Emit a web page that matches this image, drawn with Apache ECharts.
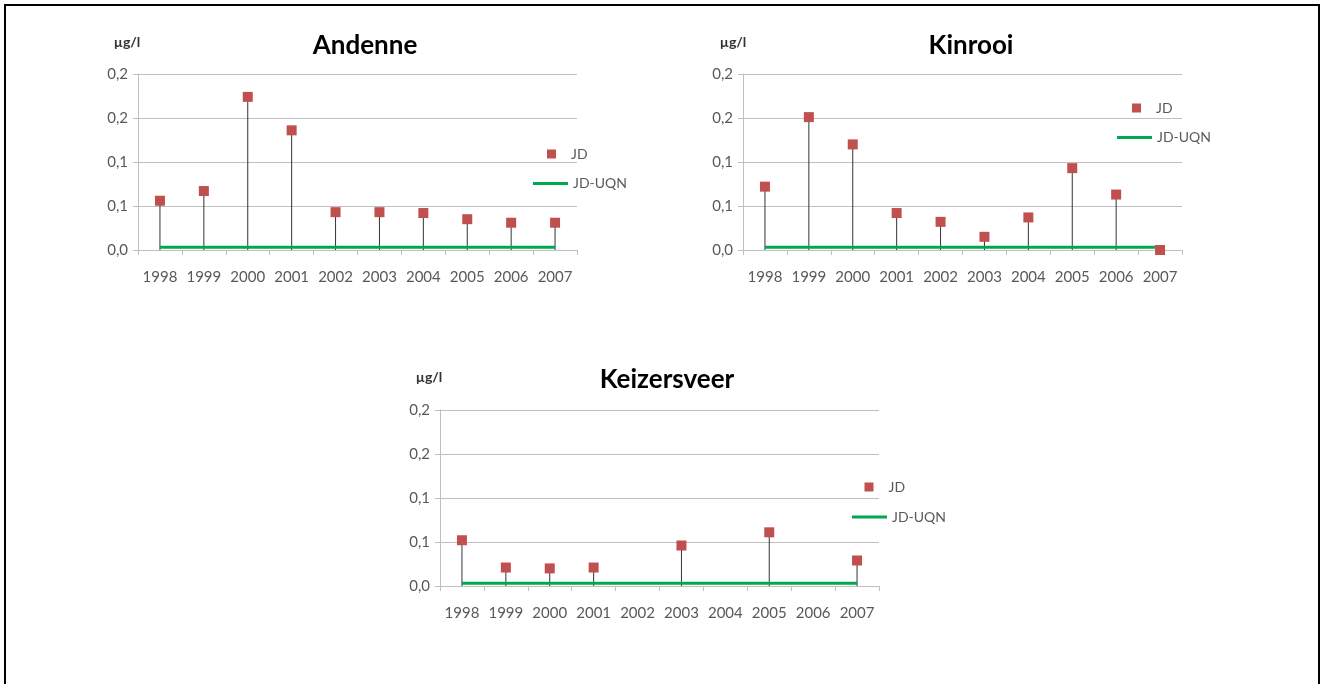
<!DOCTYPE html>
<html>
<head>
<meta charset="utf-8">
<script src="https://cdn.jsdelivr.net/npm/echarts@6/dist/echarts.min.js"></script>
<style>
  html, body { margin: 0; padding: 0; background: #ffffff; }
  #chart { width: 1321px; height: 684px; }
</style>
</head>
<body>
<div id="chart"></div>
<script>
// Annual averages (JD) per station, µg/l
const years = ['1998', '1999', '2000', '2001', '2002', '2003', '2004', '2005', '2006', '2007'];
const yTickLabels = ['0,0', '0,1', '0,1', '0,2', '0,2'];
const andenneJD = [0.056, 0.067, 0.174, 0.136, 0.043, 0.043, 0.042, 0.035, 0.031, 0.031];
const kinrooiJD = [0.072, 0.151, 0.120, 0.042, 0.032, 0.015, 0.037, 0.093, 0.063, 0.000];
const keizersveerJD = [0.052, 0.021, 0.020, 0.021, null, 0.046, null, 0.061, null, 0.029];
// Environmental quality standard (annual average)
const jdUqn = [0.003, 0.003, 0.003, 0.003, 0.003, 0.003, 0.003, 0.003, 0.003, 0.003];

const stations = [
  { name: 'Andenne', data: andenneJD, grid: { left: 138, top: 74 }, titleX: 360, titleY: 43, unitX: 127, unitY: 42,
    legendJD: [547, 147], legendUqn: [533, 176.5] },
  { name: 'Kinrooi', data: kinrooiJD, grid: { left: 743, top: 74 }, titleX: 966, titleY: 43, unitX: 733, unitY: 42,
    legendJD: [1132, 101], legendUqn: [1117, 130.5] },
  { name: 'Keizersveer', data: keizersveerJD, grid: { left: 440, top: 410 }, titleX: 662, titleY: 377, unitX: 429, unitY: 377,
    legendJD: [864.5, 480], legendUqn: [852, 510] }
];

const FONT = 'Lato';
const RED = '#c0504d';
const GREEN = '#00a650';
const GRAYTXT = '#595959';
const GRID = '#bfbfbf';

const option = {
  backgroundColor: '#ffffff',
  animation: false,
  title: [],
  legend: [],
  grid: [],
  xAxis: [],
  yAxis: [],
  series: [],
  graphic: [
    {
      type: 'rect',
      shape: { x: 5, y: 5, width: 1314, height: 700 },
      style: { fill: 'none', stroke: '#000000', lineWidth: 2 },
      silent: true
    }
  ]
};

stations.forEach((s, i) => {
  option.grid.push({ left: s.grid.left, top: s.grid.top, width: 439, height: 176 });

  option.title.push({
    text: s.name,
    left: s.titleX,
    top: s.titleY - 15,
    textAlign: 'center',
    textStyle: { fontFamily: FONT, fontWeight: 'bold', fontSize: 26, color: '#000000' }
  });

  option.graphic.push({
    type: 'text',
    x: s.unitX,
    y: s.unitY,
    style: {
      text: 'µg/l', fontFamily: FONT, fontWeight: 'bold', fontSize: 14,
      fill: '#333333', align: 'center', verticalAlign: 'middle'
    },
    silent: true
  });

  option.legend.push({
    left: s.legendJD[0], top: s.legendJD[1], padding: 0,
    selectedMode: false,
    data: [{ name: 'JD', icon: 'rect' }],
    itemWidth: 9, itemHeight: 9,
    textStyle: { fontFamily: FONT, fontSize: 14, color: GRAYTXT, lineHeight: 14, padding: [0, 0, 0, 10] }
  });
  option.legend.push({
    left: s.legendUqn[0], top: s.legendUqn[1], padding: 0,
    selectedMode: false,
    data: [{ name: 'JD-UQN', icon: 'rect' }],
    itemWidth: 35, itemHeight: 3,
    textStyle: { fontFamily: FONT, fontSize: 14, color: GRAYTXT, lineHeight: 14 }
  });

  option.xAxis.push({
    type: 'category',
    gridIndex: i,
    data: years,
    boundaryGap: true,
    axisLine: { show: true, lineStyle: { color: GRID, width: 1 } },
    axisTick: { show: true, length: 5, interval: 0, lineStyle: { color: GRID } },
    axisLabel: { interval: 0, margin: 20, fontFamily: FONT, fontSize: 15, color: GRAYTXT },
    splitLine: { show: false }
  });

  option.yAxis.push({
    type: 'value',
    gridIndex: i,
    min: 0,
    max: 0.2,
    interval: 0.05,
    axisLine: { show: true, lineStyle: { color: GRID, width: 1 } },
    axisTick: { show: true, length: 5, lineStyle: { color: GRID } },
    axisLabel: {
      margin: 10, fontFamily: FONT, fontSize: 15, color: GRAYTXT,
      formatter: (v) => yTickLabels[Math.round(v / 0.05)]
    },
    splitLine: { show: true, lineStyle: { color: GRID, width: 1 } }
  });

  // drop lines from each annual value down to the axis
  option.series.push({
    name: 'JD drop',
    type: 'bar',
    xAxisIndex: i, yAxisIndex: i,
    data: s.data,
    barWidth: 1,
    itemStyle: { color: '#333333' },
    z: 1,
    silent: true
  });

  option.series.push({
    name: 'JD-UQN',
    type: 'line',
    xAxisIndex: i, yAxisIndex: i,
    data: jdUqn,
    symbol: 'none',
    lineStyle: { color: GREEN, width: 3 },
    itemStyle: { color: GREEN },
    z: 2
  });

  option.series.push({
    name: 'JD',
    type: 'scatter',
    xAxisIndex: i, yAxisIndex: i,
    data: s.data,
    symbol: 'rect',
    symbolSize: 10,
    itemStyle: { color: RED, opacity: 1 },
    z: 3
  });
});

const chart = echarts.init(document.getElementById('chart'), null, { renderer: 'canvas' });
chart.setOption(option);
</script>
</body>
</html>
